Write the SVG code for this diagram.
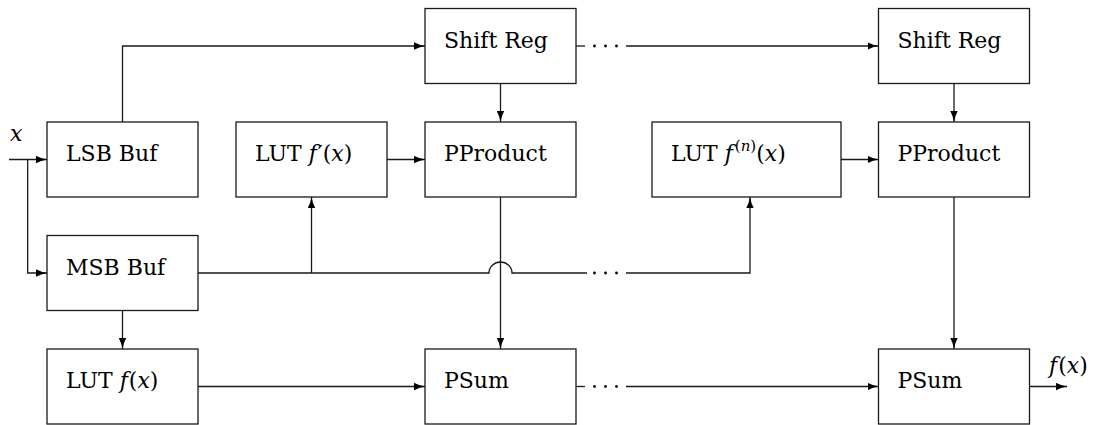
<svg xmlns="http://www.w3.org/2000/svg" width="1097" height="425" viewBox="0 0 1097 425">
<style>
  .box { fill: #ffffff; stroke: #1a1a1a; stroke-width: 1.3; }
  text { font-family: "DejaVu Serif", "Liberation Serif", serif; font-size: 22px; fill: #000; }
  .it { font-style: italic; }
  .sup { font-size: 15px; }
  .wire { fill: none; stroke: #1a1a1a; stroke-width: 1.3; }
  .arr { fill: none; stroke: #1a1a1a; stroke-width: 1.3; marker-end: url(#ah); }
  .dot { fill: #000; }
</style>
<defs>
  <marker id="ah" viewBox="0 0 11 8" refX="11" refY="4" markerWidth="11" markerHeight="8" markerUnits="userSpaceOnUse" orient="auto">
    <path d="M0,0.3 Q5,3 11,4 Q5,5 0,7.7 Z" fill="#000"/>
  </marker>
</defs>
<rect width="1097" height="425" fill="#ffffff"/>

<g id="connectors">
  <path class="arr" d="M9,159.5 H47"/>
  <path class="arr" d="M27.7,159.5 V273 H47"/>
  <path class="arr" d="M122.5,122 V46 H425"/>
  <path class="wire" d="M576,46 H585"/>
  <circle class="dot" cx="594.5" cy="46" r="1.4"/>
  <circle class="dot" cx="605.5" cy="46" r="1.4"/>
  <circle class="dot" cx="616.5" cy="46" r="1.4"/>
  <path class="arr" d="M626,46 H878.5"/>
  <path class="arr" d="M500.5,83.5 V122"/>
  <path class="arr" d="M954,83.5 V122"/>
  <path class="arr" d="M387,159.5 H425"/>
  <path class="arr" d="M841,159.5 H878.5"/>
  <path class="wire" d="M198,273 H489 A11.5,11 0 0 1 512,273 H587"/>
  <circle class="dot" cx="594.5" cy="273" r="1.4"/>
  <circle class="dot" cx="605.5" cy="273" r="1.4"/>
  <circle class="dot" cx="616.5" cy="273" r="1.4"/>
  <path class="arr" d="M626,273 H750 V197"/>
  <path class="arr" d="M311.5,273 V197"/>
  <path class="arr" d="M500.5,197 V349"/>
  <path class="arr" d="M954,197 V349"/>
  <path class="arr" d="M122.5,310.5 V349"/>
  <path class="arr" d="M198,386.5 H425"/>
  <path class="wire" d="M576,386.5 H585"/>
  <circle class="dot" cx="594.5" cy="386.5" r="1.4"/>
  <circle class="dot" cx="605.5" cy="386.5" r="1.4"/>
  <circle class="dot" cx="616.5" cy="386.5" r="1.4"/>
  <path class="arr" d="M626,386.5 H878.5"/>
  <path class="arr" d="M1029.5,386.5 H1067"/>
  <text class="it" x="10" y="141">x</text>
  <text x="1049" y="373"><tspan class="it">f</tspan><tspan dx="1">(</tspan><tspan class="it">x</tspan>)</text>
</g>

<g id="lsb-buf">
  <rect class="box" x="47" y="122" width="151" height="75"/>
  <text x="66" y="161">LSB Buf</text>
</g>
<g id="msb-buf">
  <rect class="box" x="47" y="235.5" width="151" height="75"/>
  <text x="66" y="274.5">MSB Buf</text>
</g>
<g id="lut-f">
  <rect class="box" x="47" y="349" width="151" height="75"/>
  <text x="66" y="388">LUT <tspan class="it">f</tspan><tspan dx="1">(</tspan><tspan class="it">x</tspan>)</text>
</g>
<g id="lut-f1">
  <rect class="box" x="236" y="122" width="151" height="75"/>
  <text x="255" y="161">LUT <tspan class="it">f</tspan><tspan dx="1">′(</tspan><tspan class="it">x</tspan>)</text>
</g>
<g id="shift-reg-1">
  <rect class="box" x="425" y="8.5" width="151" height="75"/>
  <text x="444" y="47.5">Shift Reg</text>
</g>
<g id="pproduct-1">
  <rect class="box" x="425" y="122" width="151" height="75"/>
  <text x="444" y="161">PProduct</text>
</g>
<g id="psum-1">
  <rect class="box" x="425" y="349" width="151" height="75"/>
  <text x="444" y="388">PSum</text>
</g>
<g id="lut-fn">
  <rect class="box" x="652" y="122" width="189" height="75"/>
  <text x="671" y="161">LUT <tspan class="it">f</tspan><tspan class="sup" dx="2" dy="-10">(</tspan><tspan class="sup it">n</tspan><tspan class="sup">)</tspan><tspan dy="10">(</tspan><tspan class="it">x</tspan>)</text>
</g>
<g id="shift-reg-2">
  <rect class="box" x="878.5" y="8.5" width="151" height="75"/>
  <text x="897.5" y="47.5">Shift Reg</text>
</g>
<g id="pproduct-2">
  <rect class="box" x="878.5" y="122" width="151" height="75"/>
  <text x="897.5" y="161">PProduct</text>
</g>
<g id="psum-2">
  <rect class="box" x="878.5" y="349" width="151" height="75"/>
  <text x="897.5" y="388">PSum</text>
</g>
</svg>
